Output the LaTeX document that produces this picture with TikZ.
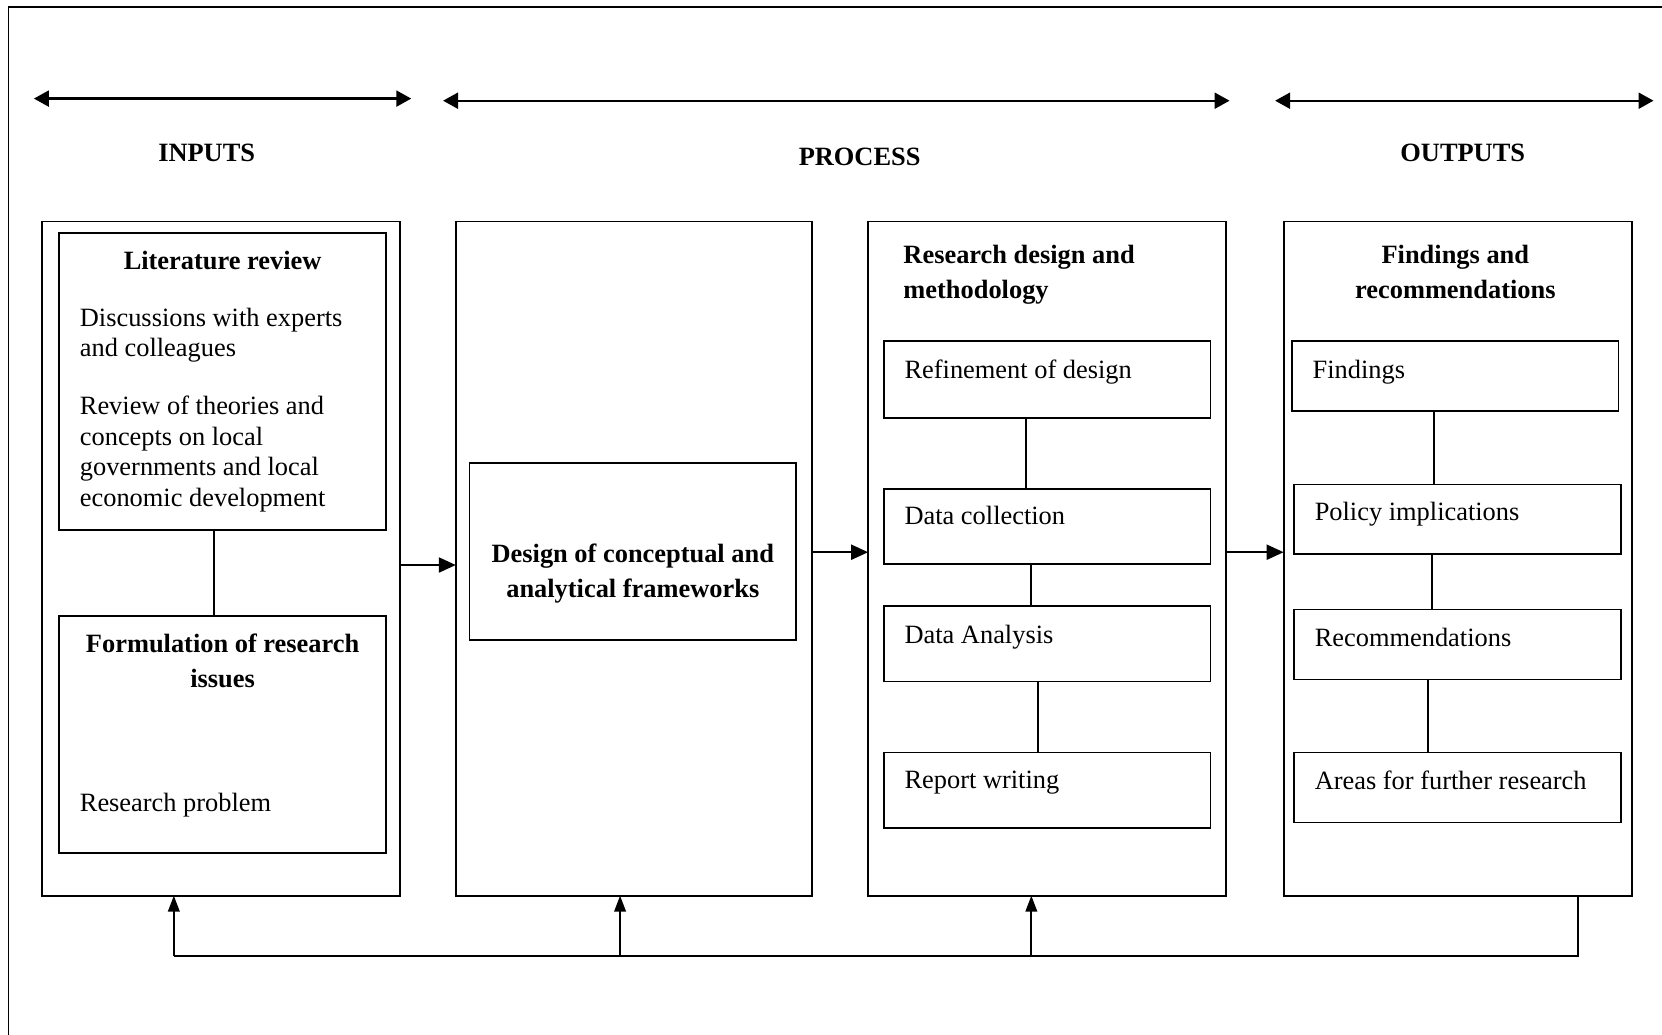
\documentclass[tikz,border=0pt]{standalone}
\usepackage{fontspec}
\setmainfont{Liberation Serif}
\usetikzlibrary{arrows.meta}
\def\u{0.53pt}
\tikzset{
  box/.style={draw, line width=0.9pt, rectangle, inner sep=0pt, outer sep=0pt},
  txt/.style={inner sep=0pt, anchor=north west, align=left, font=\fontsize{13.2}{15.4}\selectfont},
  hd/.style={inner sep=0pt, anchor=north, align=center, font=\bfseries\fontsize{13.2}{17.5}\selectfont},
  hdl/.style={hd, anchor=north west, align=left},
  link/.style={line width=0.9pt},
  arr/.style={line width=1pt, -{Triangle[length=8pt, width=5.8pt]}},
  flow/.style={line width=1.1pt, -{Triangle[length=8.5pt, width=7.5pt]}},
  span/.style={line width=1.1pt, {Triangle[length=7.5pt, width=8pt]}-{Triangle[length=7.5pt, width=8pt]}},
}
% box from its two corners: name, x1, y1, x2, y2
\newcommand\bx[5]{%
  \node[box, minimum width={(#4-#2)*\u}, minimum height={(#5-#3)*\u}]
    (#1) at ({(#2+#4)/2},{(#3+#5)/2}) {};}
\begin{document}
\begin{tikzpicture}[x=0.53pt, y=-0.53pt]
\useasboundingbox (0,0) rectangle (1568,976);
% frame
\draw[line width=0.8pt] (1568,6.5) -- (8,6.5) -- (8,976);

% phase spans
\coordinate (sa1) at (32,93);   \coordinate (sa2) at (388,93);
\coordinate (sb1) at (418,95);  \coordinate (sb2) at (1160,95);
\coordinate (sc1) at (1203,95); \coordinate (sc2) at (1560,95);
\draw[span] (sa1) -- (sa2);
\draw[span] (sb1) -- (sb2);
\draw[span] (sc1) -- (sc2);
\node[hd, anchor=center] (tin)  at (195,144) {INPUTS};
\node[hd, anchor=center] (tpr)  at (811,148) {PROCESS};
\node[hd, anchor=center] (tout) at (1380,144) {OUTPUTS};

% column boxes
\bx{c1}{40}{209}{377}{845}
\bx{c2}{430}{209}{766}{845}
\bx{c3}{819}{209}{1157}{845}
\bx{c4}{1211}{209}{1540}{845}

% inputs
\bx{lit}{56}{220}{364}{500}
\bx{form}{56}{581}{364}{805}
\draw[link] ([xshift=-8*\u]lit.south) -- ([xshift=-8*\u]form.north);
\node[hd] at (210,237) {Literature review};
\node[txt] at (75,290) {Discussions with experts\\and colleagues};
\node[txt] at (75,373) {Review of theories and\\concepts on local\\governments and local\\economic development};
\node[hd] at (210,598) {Formulation of research\\issues};
\node[txt] at (75,748) {Research problem};

% process: frameworks
\bx{frm}{443}{437}{751}{604}
\node[hd] at (597,513) {Design of conceptual and\\analytical frameworks};

% process: research design
\node[hdl] at (852,231) {Research design and\\methodology};
\bx{ref}{834}{322}{1142}{394}
\bx{dcol}{834}{461}{1142}{532}
\bx{dana}{834}{572}{1142}{643}
\bx{rep}{834}{710}{1142}{781}
\draw[link] ([xshift=-20*\u]ref.south) -- ([xshift=-20*\u]dcol.north);
\draw[link] ([xshift=-15*\u]dcol.south) -- ([xshift=-15*\u]dana.north);
\draw[link] ([xshift=-9*\u]dana.south) -- ([xshift=-9*\u]rep.north);
\node[txt] at (853,339) {Refinement of design};
\node[txt] at (853,477) {Data collection};
\node[txt] at (853,589) {Data Analysis};
\node[txt] at (853,727) {Report writing};

% outputs
\node[hd] at (1373,231) {Findings and\\recommendations};
\bx{fnd}{1219}{322}{1527}{388}
\bx{pol}{1221}{457}{1529}{523}
\bx{rec}{1221}{575}{1529}{641}
\bx{fur}{1221}{710}{1529}{776}
\draw[link] ([xshift=-20*\u]fnd.south) -- ([xshift=-22*\u]pol.north);
\draw[link] ([xshift=-24*\u]pol.south) -- ([xshift=-24*\u]rec.north);
\draw[link] ([xshift=-28*\u]rec.south) -- ([xshift=-28*\u]fur.north);
\node[txt] at (1238,339) {Findings};
\node[txt] at (1240,473) {Policy implications};
\node[txt] at (1240,592) {Recommendations};
\node[txt] at (1240,727) {Areas for further research};

% flow between columns
\draw[flow] ([yshift=-3.2pt]c1.east) -- ([yshift=-3.2pt]c2.west);
\draw[flow] ([yshift=3.2pt]c2.east) -- ([yshift=3.2pt]c3.west);
\draw[flow] ([yshift=3.2pt]c3.east) -- ([yshift=3.2pt]c4.west);

% feedback loop
\coordinate (fb4) at (1489,902);
\coordinate (fb1) at (164,902);
\coordinate (fb2) at (585,902);
\coordinate (fb3) at (973,902);
\draw[link] (fb4 |- c4.south) -- (fb4) -- (fb1);
\draw[arr] (fb1) -- (fb1 |- c1.south);
\draw[arr] (fb2) -- (fb2 |- c2.south);
\draw[arr] (fb3) -- (fb3 |- c3.south);
\end{tikzpicture}
\end{document}
